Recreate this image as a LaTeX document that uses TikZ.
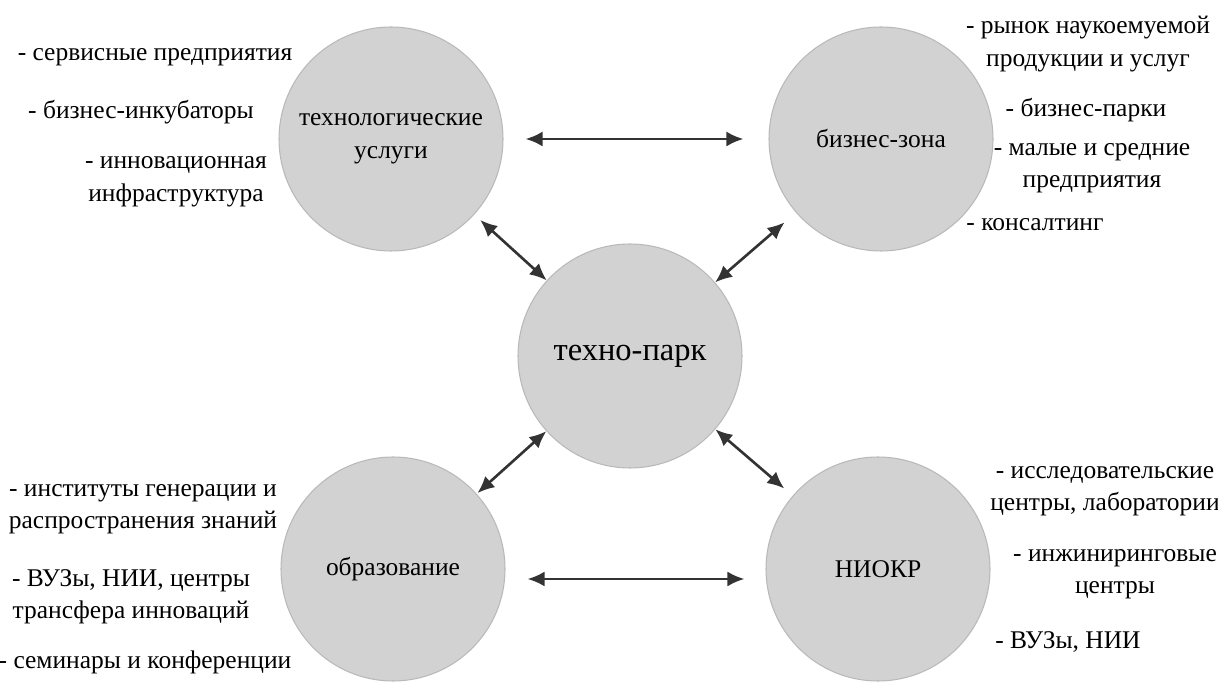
\documentclass[tikz,border=0pt]{standalone}
\usepackage{fontspec}
\setmainfont{Liberation Serif}
\usetikzlibrary{arrows.meta}

\tikzset{
  zone/.style={circle, fill=gray!35, draw=gray!55, line width=0.6pt,
    minimum size=4.48cm, inner sep=0pt, align=center,
    font=\fontsize{14.5}{19}\selectfont},
  item/.style={align=center, inner sep=0pt,
    font=\fontsize{14.5}{18.5}\selectfont},
  link/.style={{Latex[length=0.34cm,width=0.3cm]}-{Latex[length=0.34cm,width=0.3cm]},
    line width=1.5pt, draw=black!80},
}

\begin{document}
\begin{tikzpicture}
  \useasboundingbox (0,0) rectangle (24.36,13.68);

  % circles
  \node[zone] (tech) at (7.82,10.9) {технологические\\услуги};
  \node[zone] (biz) at (17.62,10.9) {бизнес-зона};
  \node[zone, font=\fontsize{18.5}{22}\selectfont] (park) at (12.6,6.56) {техно-парк};
  \node[zone] (edu) at (7.86,2.3) {образование};
  \node[zone] (niokr) at (17.56,2.3) {НИОКР};

  % connectors
  \draw[link, shorten <=0.44cm, shorten >=0.5cm] (tech) -- (biz);
  \draw[link, shorten <=0.44cm, shorten >=0.42cm]
    ([yshift=-0.2cm]edu.east) -- ([yshift=-0.2cm]niokr.west);
  \draw[link, shorten <=0.16cm] (tech) -- (park);
  \draw[link, shorten <=0.3cm] (biz) -- (park);
  \draw[link, shorten <=0.02cm] (edu) -- (park);
  \draw[link, shorten <=0.22cm] (niokr) -- (park);

  % top left
  \node[item] (serv) at (3.10,12.54) {- сервисные предприятия};
  \node[item] (inkub) at (2.82,11.44) {- бизнес-инкубаторы};
  \node[item] (infra) at (3.52,10.04) {- инновационная\\инфраструктура};

  % top right
  \node[item] (rynok) at (21.76,12.8) {- рынок наукоемуемой\\продукции и услуг};
  \node[item] (parki) at (21.72,11.48) {- бизнес-парки};
  \node[item] (malye) at (21.84,10.32) {- малые и средние\\предприятия};
  \node[item] (kons) at (20.7,9.18) {- консалтинг};

  % bottom left
  \node[item] (inst) at (2.86,3.5) {- институты генерации и\\распространения знаний};
  \node[item] (vuzy) at (2.62,1.74) {- ВУЗы, НИИ, центры\\трансфера инноваций};
  \node[item] (semin) at (2.9,0.44) {- семинары и конференции};

  % bottom right
  \node[item] (issl) at (22.1,3.86) {- исследовательские\\центры, лаборатории};
  \node[item] (inzh) at (22.3,2.2) {- инжиниринговые\\центры};
  \node[item] (vuz2) at (21.36,0.84) {- ВУЗы, НИИ};

\end{tikzpicture}
\end{document}
